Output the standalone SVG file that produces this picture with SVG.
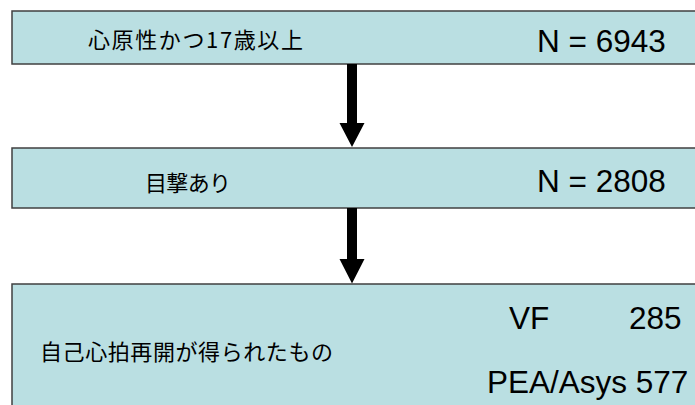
<svg xmlns="http://www.w3.org/2000/svg" width="695" height="405" viewBox="0 0 695 405">
<style>
.box{fill:#badfe2;stroke:#404040;stroke-width:1.5}
.jp{font-family:"Noto Sans CJK JP","Liberation Sans",sans-serif;font-size:22px;fill:#000}
.en{font-family:"Liberation Sans",Arial,sans-serif;font-size:31.5px;fill:#000}
.arr{fill:#000}
</style>
<rect width="695" height="405" fill="#fff"/>
<g id="node1">
<rect class="box" x="12" y="11" width="700" height="53"/>
<text class="jp" x="88" y="48" textLength="215" lengthAdjust="spacing">心原性かつ17歳以上</text>
<text class="en" x="537" y="52">N = 6943</text>
</g>
<g id="node2">
<rect class="box" x="12" y="148" width="700" height="60"/>
<text class="jp" x="145" y="191" textLength="86" lengthAdjust="spacing">目撃あり</text>
<text class="en" x="537" y="192">N = 2808</text>
</g>
<g id="node3">
<rect class="box" x="12" y="284" width="700" height="140"/>
<text class="jp" x="40" y="360" textLength="293" lengthAdjust="spacing">自己心拍再開が得られたもの</text>
<text class="en" x="509" y="329">VF</text>
<text class="en" x="629" y="329">285</text>
<text class="en" x="487" y="393">PEA/Asys 577</text>
</g>
<g id="connectors">
<polygon class="arr" points="347,64 357,64 357,123 364.5,123 352,147 339.5,123 347,123"/>
<polygon class="arr" points="347,208 357,208 357,259 364.5,259 352,283.5 339.5,259 347,259"/>
</g>
</svg>
